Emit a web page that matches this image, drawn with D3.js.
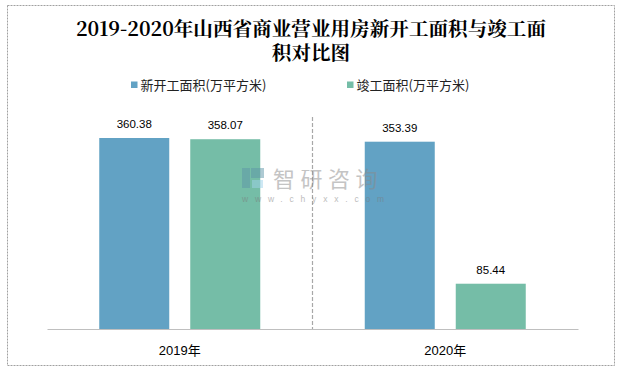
<!DOCTYPE html>
<html>
<head>
<meta charset="utf-8">
<script src="https://cdn.jsdelivr.net/npm/d3@7"></script>
<style>
  body { margin: 0; background: #fff; }
  svg { display: block; }
</style>
</head>
<body>
<div id="chart"></div>
<script>
"use strict";

const years = ["2019年", "2020年"];
const seriesNames = ["新开工面积(万平方米)", "竣工面积(万平方米)"];
const newStarted = [360.38, 353.39];
const completed = [358.07, 85.44];
const titleLines = ["2019-2020年山西省商业营业用房新开工面积与竣工面", "积对比图"];

const width = 622;
const height = 372;
const colors = ["#62a2c4", "#75bda7"];

const svg = d3.select("#chart").append("svg")
  .attr("width", width).attr("height", height);

// cadre pointillé
svg.append("rect")
  .attr("x", 7.5).attr("y", 5.5).attr("width", 607).attr("height", 360)
  .attr("fill", "#fff").attr("stroke", "#a0a0a0").attr("stroke-dasharray", "2,1");

// titre (deux lignes)
svg.append("g").selectAll("text").data(titleLines).join("text")
  .attr("x", 311).attr("y", (d, i) => 35.5 + i * 24.5)
  .attr("text-anchor", "middle")
  .style("font-family", "'Noto Serif CJK SC', 'Noto Sans CJK SC', serif")
  .style("font-size", "19.6px").style("font-weight", "bold").style("fill", "#000")
  .text(d => d);

// légende
const legendX = [131, 347];
const legend = svg.append("g").selectAll("g").data(seriesNames).join("g")
  .attr("transform", (d, i) => `translate(${legendX[i]}, 86)`);
legend.append("rect").attr("x", 0).attr("y", -4.5).attr("width", 6.5).attr("height", 6.5)
  .attr("fill", (d, i) => colors[i]);
legend.append("text").attr("x", 9.5).attr("y", 4)
  .style("font-family", "'Noto Sans CJK SC', sans-serif").style("font-size", "13px")
  .style("fill", "#222").text(d => d);

const plot = { left: 47, right: 578, top: 117, bottom: 329 };
const groupWidth = 161;

const x0 = d3.scaleBand().domain(years).range([plot.left, plot.right]);
const x1 = d3.scaleBand().domain([0, 1]).range([0, groupWidth]).paddingInner(0.2308);
const y = d3.scaleLinear().domain([0, 400]).range([plot.bottom, plot.top]);

const rows = years.map((yr, i) => ({ year: yr, values: [newStarted[i], completed[i]] }));

// barres
const groups = svg.append("g").selectAll("g").data(rows).join("g")
  .attr("transform", d => `translate(${x0(d.year) + (x0.bandwidth() - groupWidth) / 2}, 0)`);

groups.selectAll("rect").data(d => d.values).join("rect")
  .attr("x", (d, i) => x1(i))
  .attr("y", d => y(d))
  .attr("width", x1.bandwidth())
  .attr("height", d => y(0) - y(d))
  .attr("fill", (d, i) => colors[i]);

groups.selectAll("text").data(d => d.values).join("text")
  .attr("x", (d, i) => x1(i) + x1.bandwidth() / 2)
  .attr("y", d => y(d) - 10)
  .attr("text-anchor", "middle")
  .style("font-family", "'Liberation Sans', Arial, sans-serif").style("font-size", "11.5px")
  .style("fill", "#000")
  .text(d => d.toFixed(2));

// séparateur pointillé
svg.append("line")
  .attr("x1", x0("2020年")).attr("x2", x0("2020年"))
  .attr("y1", plot.top).attr("y2", plot.bottom + 0.5)
  .attr("stroke", "#a8a8a8").attr("stroke-width", 1.2).attr("stroke-dasharray", "4,2");

// axe
const axis = svg.append("g").attr("transform", `translate(0, ${plot.bottom})`)
  .call(d3.axisBottom(x0).tickSize(0).tickPadding(17));
axis.select(".domain").attr("stroke", "#bfbfbf").attr("stroke-width", 1.2);
axis.selectAll("text")
  .style("font-family", "'Liberation Sans', 'Noto Sans CJK SC', sans-serif")
  .style("font-size", "13px").style("fill", "#000");

// filigrane (au-dessus des barres)
const wm = svg.append("g").attr("opacity", 0.5).attr("transform", "translate(242, 168)");
wm.append("rect").attr("x", 0).attr("y", 0).attr("width", 8).attr("height", 20).attr("fill", "#5f96a8");
wm.append("rect").attr("x", 9).attr("y", 0).attr("width", 13).attr("height", 10).attr("fill", "#5f96a8");
wm.append("rect").attr("x", 10).attr("y", 12).attr("width", 11).attr("height", 8).attr("fill", "#9fd3ea");
wm.append("text").attr("x", 31).attr("y", 19)
  .style("font-family", "'Noto Sans CJK SC', sans-serif").style("font-size", "22px")
  .style("fill", "#8a8a8a").style("letter-spacing", "5.5px").text("智研咨询");
wm.append("text").attr("x", 0).attr("y", 33.5)
  .style("font-family", "Arial, 'Liberation Sans', sans-serif").style("font-size", "8.5px")
  .style("fill", "#7a7a7a").style("letter-spacing", "6.8px").text("www.chyxx.com");
</script>
</body>
</html>
